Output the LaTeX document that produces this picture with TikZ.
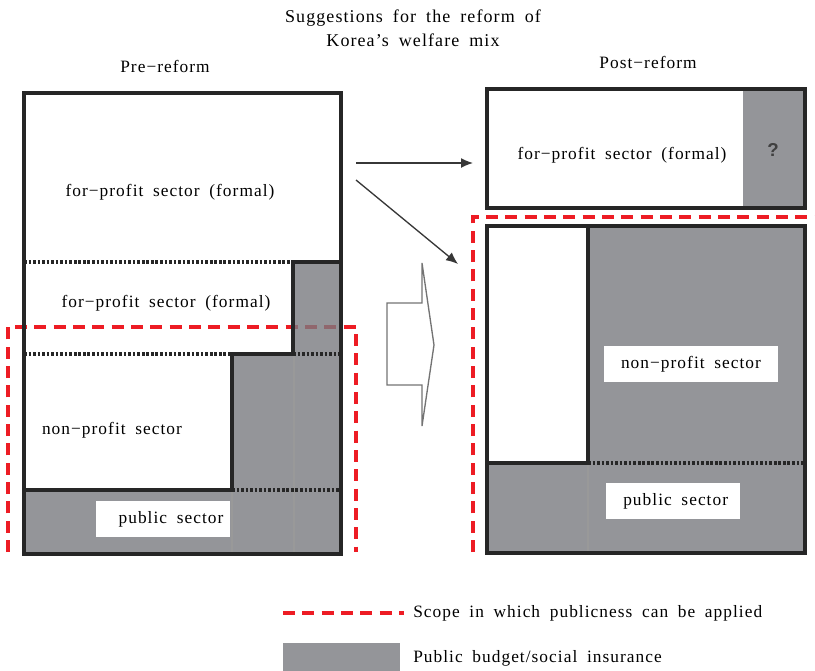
\documentclass[tikz,border=0pt]{standalone}
\usepackage{fontspec}
\setmainfont{Liberation Serif}[LetterSpace=6,WordSpace=1.8]
\newfontfamily\qfont{Liberation Sans}
\usepackage{xcolor}
\usetikzlibrary{calc, positioning, arrows.meta}

\definecolor{pubgrey}{RGB}{121,122,128}
\definecolor{scopered}{RGB}{237,28,36}
\definecolor{arrowgrey}{RGB}{55,55,55}

\tikzset{
  frame/.style={line width=2.6pt, black!85},
  seam/.style={line width=2.4pt, black!85, dash pattern=on 2pt off 1.4pt},
  thinline/.style={line width=0.8pt, black!40},
  pubfill/.style={fill=pubgrey, fill opacity=0.8},
  scopeline/.style={line width=3pt, scopered, dash pattern=on 9pt off 5.5pt},
  txt/.style={inner sep=0pt, font=\fontsize{13}{15}\selectfont},
  txtbox/.style={txt, fill=white, minimum height=27pt},
  flow/.style={-{Latex[length=9pt,width=7.5pt]}, line width=1pt, arrowgrey}
}

\begin{document}
\begin{tikzpicture}[x=0.75pt, y=-0.75pt]
    \useasboundingbox (0,0) rectangle (815,671);

    % titles
    \node[txt, align=center, font=\fontsize{13.5}{18}\selectfont] (title) at (413,28)
        {Suggestions for the reform of\\Korea's welfare mix};
    \node[txt] (pre) at (165,66) {Pre−reform};
    \node[txt] (post) at (648,62) {Post−reform};

    % scope of publicness (under the grey)
    \draw[scopeline] (8,552) -- (8,327) -- (356,327) -- (356,552);
    \draw[scopeline] (473,552) -- (473,217) -- (815,217);

    % pre-reform mix
    \fill[pubfill] (293,262) -- (341,262) -- (341,554) -- (24,554) -- (24,490)
        -- (232,490) -- (232,354) -- (293,354) -- cycle;
    \draw[thinline] (294,354) -- (294,554);
    \draw[thinline] (232,490) -- (232,554);
    \draw[seam] (24,262) -- (293,262);
    \draw[seam] (24,354) -- (232,354);
    \draw[seam] (293,354) -- (341,354);
    \draw[seam] (232,490) -- (341,490);
    \draw[frame] (341,262) -- (293,262) -- (293,354) -- (232,354) -- (232,490) -- (24,490);
    \draw[frame] (24,93) rectangle (341,554);

    \node[txt] (forA) at (170,192) {for−profit sector (formal)};
    \node[txt] (forB) at (166,303) {for−profit sector (formal)};
    \node[txt] (nonL) at (112,430) {non−profit sector};
    \node[txtbox, minimum width=101pt] (pubL) at (163,519) {\hspace{12pt}public sector};

    % post-reform mix
    \fill[pubfill] (743,89) rectangle (805,208);
    \draw[frame] (487,89) rectangle (805,208);
    \node[txt] (forR) at (622,155) {for−profit sector (formal)};
    \node[inner sep=0pt, font=\qfont\bfseries\fontsize{14}{16}\selectfont, black!75] (qR) at (773,150) {?};

    \fill[pubfill] (588,226) -- (805,226) -- (805,553) -- (487,553) -- (487,463)
        -- (588,463) -- cycle;
    \draw[thinline] (588,463) -- (588,553);
    \draw[seam] (588,463) -- (805,463);
    \draw[frame] (588,226) -- (588,463) -- (487,463);
    \draw[frame] (487,226) rectangle (805,553);
    \node[txtbox, minimum width=130pt] (nonR) at (691,364) {non−profit sector};
    \node[txtbox, minimum width=101pt] (pubR) at (673,501) {\hspace{4pt}public sector};

    % arrows
    \coordinate (hA) at (356,163);
    \coordinate (hB) at (473,163);
    \coordinate (dA) at (356,180);
    \coordinate (dB) at (458,264);
    \draw[flow] (hA) -- (hB);
    \draw[flow] (dA) -- (dB);
    \draw[line width=1pt, black!55] (422,263) -- (434,345) -- (422,426) -- (422,385)
        -- (387,385) -- (387,303) -- (422,303) -- cycle;

    % legend
    \draw[scopeline] (283,613) -- (404,613);
    \fill[pubfill] (283,643) rectangle (400,671);
    \node[txt, anchor=west] (legScope) at (413,613) {Scope in which publicness can be applied};
    \node[txt, anchor=west] (legBudget) at (413,658) {Public budget/social insurance};
\end{tikzpicture}
\end{document}
